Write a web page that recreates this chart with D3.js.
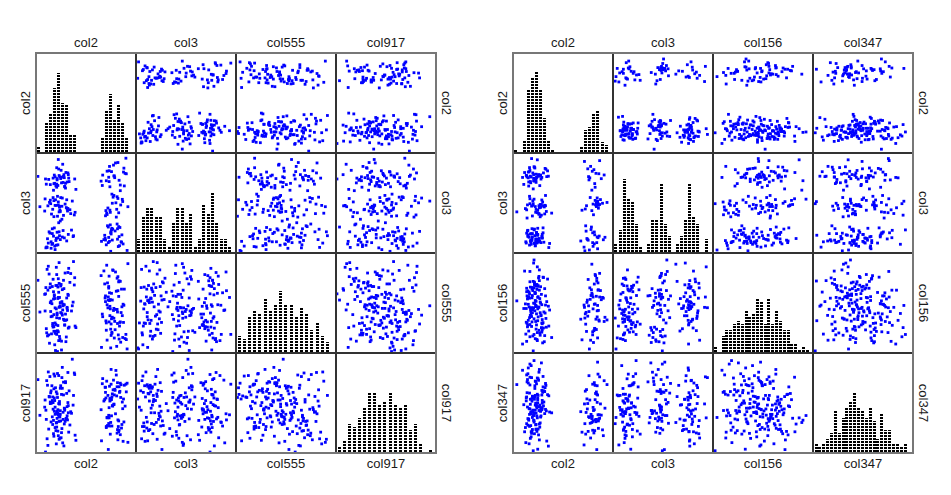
<!DOCTYPE html>
<html>
<head>
<meta charset="utf-8">
<script src="https://cdn.jsdelivr.net/npm/d3@7"></script>
<style>
  body { margin: 0; background: #fff; }
  text { font-family: "Liberation Sans", Arial, Helvetica, sans-serif; font-size: 13px; fill: #1a1a1a; }
</style>
</head>
<body>
<div id="chart"></div>
<script>
// Values are in histogram-bin units: the integer part is the bin of the diagonal histogram

// Left matrix
const leftNames = ["col2", "col3", "col555", "col917"];

const lCol2 = [
  18.4, 5.1, 2.7, 20.3, 4.6, 6.2, 17.9, 0.8, 5.5, 21.2, 3.4, 19.6, 7.1, 16.5, 4.2, 18.8, 5.9, 8.3, 20.7, 6.6,
  4.8, 17.2, 5.4, 22.1, 3.3, 7.7, 18.5, 2.2, 6.9, 19.1, 5.0, 9.4, 21.6, 4.1, 17.8, 3.9, 7.2, 20.5, 5.7, 18.1,
  6.4, 19.3, 4.9, 2.5, 17.6, 5.2, 20.9, 8.7, 4.3, 18.2, 7.5, 16.1, 5.8, 3.6, 21.4, 6.0, 18.6, 4.5, 20.2, 5.6,
  17.4, 3.1, 5.9, 22.6, 6.8, 18.9, 2.9, 7.3, 20.1, 4.4, 9.8, 17.0, 6.3, 21.8, 3.7, 5.3, 19.5, 7.9, 18.3, 4.0,
  5.7, 20.4, 0.3, 18.7, 4.7, 6.5, 16.8, 2.4, 19.9, 5.1, 8.0, 21.5, 3.8, 6.1, 17.3, 4.2, 20.8, 7.6, 18.0, 5.4,
  21.1, 5.6, 3.2, 18.4, 7.0, 17.5, 4.9, 22.4, 2.8, 9.1, 19.7, 5.2, 3.9, 20.6, 6.7, 17.9, 4.3, 7.8, 18.8, 5.8,
  4.1, 18.6, 6.9, 20.0, 2.6, 16.4, 5.5, 7.4, 19.2, 4.8, 21.7, 8.5, 17.1, 6.2, 3.5, 20.5, 7.9, 18.2, 5.0, 4.6,
  19.4, 5.3, 22.8, 7.2, 17.7, 2.1, 4.5, 18.1, 9.6, 5.9, 20.3, 6.4, 19.0, 3.0, 17.2, 7.6, 21.9, 4.0, 18.5, 5.1,
  6.6, 20.9, 3.4, 16.2, 7.8, 18.3, 5.4, 9.2, 4.6, 19.8, 2.3, 8.1, 20.1, 6.0, 17.6, 4.4, 21.3, 7.0, 18.9, 5.7,
  18.7, 4.3, 20.6, 5.0, 8.9, 17.4, 6.7, 2.0, 22.3, 5.6, 19.3, 3.6, 9.5, 21.0, 6.3, 18.0, 4.9, 7.5, 20.2, 5.3
];

const lCol3 = [
  9.2, 16.7, 3.1, 12.4, 0.6, 17.3, 5.8, 10.5, 19.2, 2.3, 15.6, 4.9, 11.1, 17.8, 3.7, 13.4, 7.2, 9.8, 1.5, 16.1,
  15.3, 2.8, 11.6, 18.2, 4.4, 9.5, 0.2, 16.9, 3.3, 12.7, 19.5, 8.6, 1.9, 17.1, 10.2, 5.4, 14.8, 9.1, 3.8, 16.3,
  3.5, 17.6, 10.8, 1.2, 18.7, 8.3, 14.2, 5.1, 11.9, 19.8, 2.6, 16.4, 9.7, 0.9, 12.2, 17.0, 4.2, 15.9, 3.0, 9.3,
  16.5, 4.7, 9.4, 0.4, 17.9, 11.3, 2.1, 18.4, 12.8, 5.6, 14.5, 3.9, 10.6, 19.4, 8.8, 1.7, 17.2, 4.1, 15.1, 9.9,
  10.4, 1.3, 17.5, 5.2, 12.1, 20.3, 2.9, 15.7, 8.1, 4.6, 17.1, 11.7, 1.8, 18.9, 9.6, 14.3, 5.7, 16.2, 3.4, 10.9,
  2.4, 17.7, 11.5, 6.3, 15.2, 9.0, 1.6, 18.1, 10.7, 3.6, 20.6, 12.9, 4.3, 16.6, 8.5, 2.2, 15.8, 10.1, 5.5, 17.4,
  12.6, 4.8, 17.2, 9.9, 1.1, 15.4, 6.8, 10.3, 20.1, 2.7, 18.5, 8.9, 3.2, 16.0, 11.2, 5.9, 17.9, 2.5, 15.0, 10.8,
  17.6, 3.3, 10.5, 15.9, 6.1, 12.3, 1.4, 18.8, 9.2, 2.9, 20.7, 12.5, 5.3, 16.8, 8.4, 10.0, 15.3, 2.0, 4.5, 17.0,
  5.0, 15.5, 12.0, 2.5, 18.3, 9.7, 21.4, 3.8, 17.4, 11.4, 1.0, 16.3, 6.5, 12.6, 8.7, 17.8, 4.0, 15.1, 2.8, 10.6,
  18.6, 8.2, 3.6, 15.7, 11.8, 1.7, 17.5, 9.5, 21.7, 4.7, 13.1, 2.4, 16.9, 10.9, 7.6, 17.3, 3.2, 12.1, 5.4, 15.4
];

const lCol555 = [
  8.4, 12.9, 3.2, 14.6, 5.7, 0.5, 10.1, 7.8, 2.3, 12.2, 9.6, 4.4, 15.3, 6.9, 11.7, 3.9, 8.8, 13.5, 5.1, 9.0,
  5.4, 9.8, 14.2, 2.7, 12.5, 8.1, 0.9, 11.3, 6.2, 15.8, 3.5, 13.0, 9.3, 4.9, 8.6, 12.7, 7.4, 10.8, 3.1, 5.9,
  12.1, 6.6, 16.4, 3.8, 9.2, 0.2, 13.7, 8.0, 4.1, 11.5, 6.3, 14.8, 2.6, 9.9, 7.1, 12.8, 3.3, 10.4, 5.6, 8.7,
  4.3, 15.1, 9.5, 0.7, 12.3, 6.8, 16.6, 2.1, 8.3, 10.9, 4.8, 13.2, 7.5, 9.1, 3.6, 12.6, 6.0, 11.0, 8.9, 5.2,
  10.6, 3.4, 13.9, 6.5, 0.4, 8.2, 15.7, 4.6, 11.8, 7.3, 16.2, 2.9, 9.4, 13.1, 6.1, 10.3, 5.8, 8.5, 12.4, 4.0,
  7.7, 13.3, 1.8, 10.2, 5.3, 16.8, 8.4, 2.5, 12.0, 9.7, 15.5, 4.2, 7.0, 13.8, 6.4, 10.7, 5.0, 11.2, 3.7, 8.9,
  14.1, 5.5, 9.2, 1.2, 16.0, 7.4, 11.6, 3.0, 8.1, 12.9, 5.8, 15.2, 10.5, 2.2, 7.9, 13.6, 4.7, 10.0, 6.7, 8.6,
  2.8, 10.4, 17.1, 6.2, 13.4, 8.0, 1.5, 14.7, 5.1, 9.6, 11.9, 7.2, 15.9, 3.4, 10.9, 8.7, 12.2, 5.6, 4.5, 7.6,
  9.3, 5.9, 13.2, 1.0, 15.4, 7.1, 10.6, 17.5, 3.7, 8.3, 12.5, 4.9, 14.3, 7.7, 2.4, 11.1, 8.8, 5.3, 10.1, 6.6,
  11.4, 7.3, 2.6, 15.0, 9.0, 5.7, 13.9, 11.2, 3.5, 17.3, 8.5, 6.9, 14.4, 2.0, 9.8, 12.7, 4.1, 10.5, 7.8, 5.2
];

const lCol917 = [
  10.3, 6.7, 13.2, 2.5, 8.9, 11.4, 0.6, 7.3, 15.1, 4.8, 9.6, 12.2, 6.1, 14.5, 3.7, 10.9, 8.2, 5.4, 11.8, 7.9,
  7.6, 12.8, 3.3, 9.1, 14.9, 6.4, 10.5, 0.1, 8.7, 12.3, 5.9, 15.6, 2.2, 9.8, 11.2, 7.0, 13.7, 4.1, 10.0, 6.8,
  12.6, 9.4, 1.7, 14.1, 6.9, 10.8, 3.5, 7.7, 15.4, 5.2, 11.6, 8.4, 2.8, 12.1, 9.9, 6.2, 13.4, 10.2, 4.5, 7.1,
  4.9, 11.0, 7.5, 13.6, 1.3, 9.2, 15.8, 6.6, 12.9, 8.1, 2.4, 10.4, 14.7, 6.0, 9.7, 4.2, 12.4, 7.8, 10.6, 5.5,
  9.5, 5.1, 14.3, 7.2, 12.7, 1.9, 10.1, 6.5, 15.2, 11.5, 4.0, 8.6, 13.1, 2.9, 10.7, 6.3, 12.0, 9.0, 5.7, 7.4,
  13.3, 6.1, 10.9, 3.6, 8.3, 14.0, 5.8, 11.9, 1.4, 9.3, 7.6, 15.5, 10.2, 4.4, 13.8, 6.9, 12.5, 9.8, 5.2, 7.0,
  8.5, 16.3, 5.6, 11.1, 2.7, 13.5, 9.6, 6.7, 14.2, 4.3, 10.5, 8.0, 12.8, 3.9, 11.7, 6.2, 9.2, 13.0, 5.0, 7.5,
  11.3, 7.8, 2.0, 13.9, 5.3, 10.3, 15.0, 8.8, 3.4, 12.6, 6.4, 16.7, 9.1, 4.6, 11.8, 7.2, 13.2, 10.9, 5.9, 8.1,
  6.5, 13.6, 9.9, 2.3, 15.7, 10.1, 7.4, 11.2, 4.9, 16.1, 8.3, 12.1, 3.8, 13.1, 6.8, 10.7, 5.5, 8.6, 11.5, 7.0,
  10.4, 3.2, 12.9, 7.9, 18.3, 5.1, 11.3, 8.9, 13.4, 2.6, 9.5, 6.0, 15.3, 10.8, 4.7, 7.3, 11.9, 6.6, 13.7, 8.4
];

// Right matrix
const rightNames = ["col2", "col3", "col156", "col347"];

const rCol2 = [
  4.6, 19.2, 3.1, 5.8, 0.7, 18.4, 6.3, 4.0, 20.5, 7.2, 3.7, 16.6, 5.2, 4.9, 19.8, 6.8, 3.4, 20.1, 7.6, 5.5,
  5.3, 3.6, 17.7, 4.2, 6.5, 20.4, 2.8, 5.9, 19.1, 4.7, 7.3, 18.6, 3.2, 5.0, 6.1, 19.7, 4.4, 20.9, 7.8, 5.6,
  18.2, 6.9, 4.3, 5.1, 19.4, 3.8, 7.1, 2.4, 20.2, 5.7, 4.8, 17.3, 6.2, 3.3, 5.4, 19.9, 4.1, 7.7, 20.7, 5.8,
  4.5, 19.3, 5.2, 8.4, 3.9, 21.1, 6.6, 2.6, 5.7, 17.9, 4.1, 7.4, 18.8, 3.5, 6.0, 20.3, 5.4, 19.6, 4.9, 5.0,
  6.4, 3.0, 20.6, 5.5, 4.6, 17.1, 8.2, 6.9, 19.0, 2.1, 5.8, 21.6, 4.3, 18.3, 6.2, 3.8, 7.5, 19.5, 5.1, 4.0,
  19.7, 4.8, 6.7, 2.9, 5.3, 18.0, 3.4, 7.0, 21.3, 4.2, 6.1, 17.5, 5.9, 8.7, 3.9, 20.0, 4.4, 6.5, 19.2, 5.6,
  5.2, 20.8, 3.5, 6.3, 4.7, 17.6, 8.0, 3.1, 19.3, 5.7, 6.8, 21.8, 4.0, 18.9, 3.9, 5.4, 20.2, 7.9, 6.0, 4.5,
  4.1, 18.5, 6.4, 3.3, 22.2, 5.0, 8.5, 20.4, 4.8, 6.9, 3.7, 17.4, 5.6, 19.8, 7.2, 4.4, 20.9, 6.1, 3.0, 5.3,
  6.6, 3.4, 20.1, 5.9, 4.3, 9.2, 17.8, 6.2, 22.7, 3.8, 5.1, 19.0, 4.9, 7.7, 18.1, 5.5, 3.2, 20.6, 6.8, 4.6,
  5.8, 16.3, 4.2, 7.1, 3.6, 20.5, 6.4, 18.7, 5.2, 4.9, 22.0, 3.1, 17.2, 6.7, 19.6, 5.4, 7.5, 4.5, 20.3, 3.9
];

const rCol3 = [
  11.4, 2.3, 18.6, 4.1, 9.8, 0.5, 16.2, 2.7, 11.9, 19.3, 3.6, 10.2, 17.5, 2.1, 12.6, 18.2, 5.3, 11.1, 20.4, 4.8,
  2.6, 17.1, 11.3, 4.5, 18.8, 0.8, 10.6, 3.2, 19.7, 11.8, 2.4, 13.3, 18.3, 5.6, 9.4, 16.7, 2.9, 11.6, 20.2, 4.2,
  18.4, 3.4, 11.2, 2.2, 9.1, 20.6, 4.7, 16.5, 12.3, 2.8, 18.9, 0.3, 10.8, 5.2, 17.7, 11.5, 2.5, 13.8, 19.1, 4.3,
  3.7, 11.7, 1.6, 18.5, 4.4, 12.8, 2.3, 19.4, 9.6, 3.1, 16.9, 11.0, 5.5, 18.1, 2.7, 13.2, 10.4, 4.9, 20.8, 17.3,
  18.7, 2.2, 11.4, 4.6, 12.5, 1.2, 19.8, 3.5, 10.1, 18.2, 5.8, 11.9, 2.9, 17.6, 3.3, 13.6, 9.3, 20.1, 4.0, 18.5,
  4.2, 18.0, 11.6, 2.5, 9.7, 20.3, 3.8, 12.2, 17.9, 1.9, 11.3, 6.4, 18.6, 2.1, 13.0, 19.2, 3.4, 10.9, 4.7, 18.3,
  11.1, 3.9, 19.5, 2.6, 15.4, 5.1, 18.4, 10.3, 1.4, 22.5, 12.7, 3.0, 17.2, 6.1, 11.8, 19.0, 2.3, 9.9, 18.9, 4.5,
  2.8, 18.1, 8.6, 11.5, 3.6, 20.7, 1.1, 12.4, 17.4, 4.3, 19.6, 10.5, 2.2, 15.8, 11.2, 5.7, 22.3, 9.2, 18.7, 3.2,
  17.8, 4.1, 11.9, 2.4, 22.8, 9.5, 3.3, 18.5, 12.1, 1.7, 20.5, 15.1, 5.4, 11.3, 2.9, 18.2, 8.3, 10.7, 3.8, 19.3,
  10.2, 2.7, 18.3, 5.9, 16.1, 3.5, 11.6, 20.9, 1.5, 12.9, 18.8, 4.6, 22.1, 9.0, 2.0, 17.0, 11.4, 8.8, 3.7, 19.9
];

const rCol156 = [
  11.2, 4.6, 16.8, 8.3, 13.5, 0.9, 14.1, 9.7, 18.2, 6.4, 11.9, 3.3, 15.6, 8.8, 20.4, 12.5, 7.1, 14.7, 10.3, 17.6,
  8.1, 14.6, 5.5, 11.3, 17.2, 3.8, 12.7, 9.3, 15.1, 0.4, 10.6, 13.9, 7.6, 18.4, 11.8, 6.2, 14.3, 20.7, 8.9, 16.5,
  12.2, 5.9, 9.4, 15.7, 2.6, 14.2, 7.8, 11.5, 18.7, 3.1, 12.9, 9.0, 16.3, 6.7, 13.4, 20.1, 10.8, 14.8, 8.5, 17.3,
  10.4, 14.5, 3.6, 12.1, 7.3, 16.2, 9.8, 21.3, 5.2, 13.7, 11.6, 2.8, 14.9, 8.4, 19.5, 10.9, 6.1, 12.6, 16.9, 17.7,
  13.2, 7.9, 16.4, 10.1, 4.3, 12.4, 19.2, 8.6, 15.5, 2.2, 11.4, 14.4, 6.8, 10.7, 21.6, 9.1, 16.7, 5.7, 12.8, 17.1,
  6.3, 11.7, 15.2, 4.8, 12.3, 9.5, 16.1, 2.5, 13.8, 10.2, 19.9, 7.4, 14.6, 11.1, 21.2, 8.7, 16.6, 12.9, 5.4, 17.8,
  15.4, 8.2, 12.6, 5.1, 18.6, 10.5, 13.3, 2.9, 11.4, 22.4, 7.7, 14.2, 9.6, 16.4, 4.1, 12.0, 19.4, 6.6, 11.9, 17.0,
  11.3, 16.9, 4.5, 14.0, 9.2, 18.1, 6.9, 12.3, 23.4, 7.5, 15.8, 10.1, 3.4, 12.7, 19.6, 8.0, 14.5, 5.8, 11.5, 17.4,
  9.6, 14.3, 6.0, 17.5, 11.7, 3.9, 13.1, 18.8, 8.5, 15.3, 10.9, 23.1, 4.7, 12.4, 19.1, 7.2, 14.8, 11.0, 5.3, 16.2,
  14.4, 8.7, 11.2, 19.7, 5.6, 16.3, 10.4, 3.2, 13.6, 24.2, 8.1, 15.9, 11.8, 6.5, 17.9, 12.2, 4.4, 14.9, 9.3, 18.5
];

const rCol347 = [
  10.3, 5.6, 14.2, 0.7, 17.4, 8.9, 12.1, 3.5, 9.6, 15.8, 11.2, 5.1, 18.3, 7.7, 13.5, 10.9, 20.2, 8.4, 16.6, 11.8,
  12.6, 8.2, 16.1, 3.9, 10.5, 14.7, 6.3, 18.9, 9.2, 0.3, 12.9, 7.4, 15.3, 10.1, 20.6, 5.5, 13.8, 8.7, 17.2, 11.4,
  9.1, 13.3, 4.8, 16.4, 10.7, 6.6, 19.5, 12.2, 0.6, 14.9, 9.8, 7.3, 21.3, 11.6, 5.9, 15.1, 10.2, 17.7, 8.5, 12.7,
  14.4, 7.9, 10.8, 1.5, 17.3, 12.4, 9.3, 5.2, 19.1, 11.1, 6.8, 15.6, 9.7, 21.7, 4.4, 12.8, 10.0, 17.9, 8.1, 13.6,
  10.6, 13.2, 6.1, 17.6, 9.4, 1.8, 14.8, 11.3, 8.6, 21.1, 13.9, 5.7, 10.4, 19.7, 7.2, 15.2, 9.9, 4.9, 17.1, 12.3,
  8.3, 14.1, 10.9, 2.4, 18.2, 12.5, 6.9, 15.4, 9.5, 22.3, 11.7, 4.6, 14.6, 10.3, 19.3, 7.8, 13.1, 9.0, 17.5, 5.3,
  12.1, 9.6, 17.8, 6.4, 14.3, 10.2, 2.8, 19.9, 11.5, 8.8, 15.9, 4.2, 13.6, 9.2, 22.7, 7.1, 14.9, 10.6, 18.5, 5.8,
  9.9, 13.4, 7.5, 18.7, 11.3, 4.7, 14.5, 23.2, 8.2, 12.6, 2.1, 15.7, 9.3, 17.2, 11.9, 5.4, 19.4, 10.7, 14.0, 7.0,
  11.4, 8.6, 15.5, 5.9, 19.2, 10.1, 13.7, 3.1, 17.4, 9.7, 14.3, 7.6, 23.6, 11.0, 5.3, 12.2, 18.1, 8.0, 14.7, 10.8,
  13.5, 10.4, 5.2, 16.8, 8.5, 20.1, 11.6, 3.6, 14.6, 9.4, 18.4, 7.3, 12.4, 23.0, 10.9, 5.8, 15.6, 8.9, 17.1, 11.1
];

// axis range of each variable (bin units) and the count that reaches the top of its histogram panel
const leftLimits = [[-0.175, 24.825], [-0.19, 22.9], [-0.08, 19.15], [-0.09, 19.52]];
const rightLimits = [[-0.23, 24.16], [-0.23, 24.16], [-0.15, 26.03], [-0.28, 25.56]];
const leftHistTop = [34, 31.1, 31, 31.7];
const rightHistTop = [40.2, 31.4, 31.5, 31.6];

const width = 951,
  height = 495,
  cell = 100,
  pointSize = 2.8,
  barWidth = 3;

var svg = d3.select("#chart").append("svg")
  .attr("width", width)
  .attr("height", height);

var defs = svg.append("defs");

function drawMatrix(id, x0, y0, names, cols, limits, histTop) {
  var n = names.length;
  var g = svg.append("g").attr("id", id);

  var xs = limits.map((l, j) => d3.scaleLinear().domain(l).range([x0 + j * cell, x0 + (j + 1) * cell]));
  var ys = limits.map((l, i) => d3.scaleLinear().domain(l).range([y0 + (i + 1) * cell, y0 + i * cell]));

  for (var i = 0; i < n; i++) {
    for (var j = 0; j < n; j++) {
      var panel = g.append("g").attr("class", "panel-" + i + "-" + j);

      if (i === j) {
        // diagonal: histogram drawn as columns of stacked dots
        var bottom = y0 + (i + 1) * cell - 1;
        var nb = Math.ceil(limits[i][1]);
        var bins = d3.bin().domain([0, nb]).thresholds(d3.range(1, nb))(cols[i]);
        var hy = d3.scaleLinear().domain([0, histTop[i]]).range([bottom, y0 + i * cell]);

        var pid = id + "-dots-" + i;
        var pat = defs.append("pattern")
          .attr("id", pid)
          .attr("patternUnits", "userSpaceOnUse")
          .attr("x", 0)
          .attr("y", bottom)
          .attr("width", 10)
          .attr("height", 3);
        pat.append("rect").attr("x", 0).attr("y", 1).attr("width", 10).attr("height", 2).attr("fill", "#000");

        panel.selectAll("rect.bar")
          .data(bins.filter(b => b.length > 0))
          .enter()
          .append("rect")
            .attr("class", "bar")
            .attr("x", b => Math.round(xs[i]((b.x0 + b.x1) / 2) - barWidth / 2))
            .attr("y", b => Math.round(hy(b.length)))
            .attr("width", barWidth)
            .attr("height", b => bottom - Math.round(hy(b.length)))
            .attr("shape-rendering", "crispEdges")
            .attr("fill", "url(#" + pid + ")");
      } else {
        var xv = cols[j], yv = cols[i];
        var xsc = xs[j], ysc = ys[i];
        panel.selectAll("rect.pt")
          .data(d3.range(xv.length))
          .enter()
          .append("rect")
            .attr("class", "pt")
            .attr("x", k => xsc(xv[k]) - pointSize / 2)
            .attr("y", k => ysc(yv[k]) - pointSize / 2)
            .attr("width", pointSize)
            .attr("height", pointSize)
            .attr("fill", "#0000ff");
      }

      panel.append("rect")
        .attr("x", x0 + j * cell)
        .attr("y", y0 + i * cell)
        .attr("width", cell)
        .attr("height", cell)
        .attr("fill", "none")
        .attr("stroke", "#333")
        .attr("stroke-width", 2);
    }
  }

  // outer frame
  g.append("rect")
    .attr("x", x0)
    .attr("y", y0)
    .attr("width", n * cell)
    .attr("height", n * cell)
    .attr("fill", "none")
    .attr("stroke", "#777")
    .attr("stroke-width", 2);

  // variable names round the matrix
  g.selectAll("text.top").data(names).enter().append("text")
    .attr("class", "top")
    .attr("x", (d, j) => x0 + j * cell + cell / 2)
    .attr("y", y0 - 6)
    .attr("text-anchor", "middle")
    .text(d => d);

  g.selectAll("text.bottom").data(names).enter().append("text")
    .attr("class", "bottom")
    .attr("x", (d, j) => x0 + j * cell + cell / 2)
    .attr("y", y0 + n * cell + 15)
    .attr("text-anchor", "middle")
    .text(d => d);

  g.selectAll("text.left").data(names).enter().append("text")
    .attr("class", "left")
    .attr("transform", (d, i) => "translate(" + (x0 - 6) + "," + (y0 + i * cell + cell / 2) + ") rotate(-90)")
    .attr("text-anchor", "middle")
    .text(d => d);

  g.selectAll("text.right").data(names).enter().append("text")
    .attr("class", "right")
    .attr("transform", (d, i) => "translate(" + (x0 + n * cell + 6) + "," + (y0 + i * cell + cell / 2) + ") rotate(90)")
    .attr("text-anchor", "middle")
    .text(d => d);
}

drawMatrix("left", 36, 53, leftNames, [lCol2, lCol3, lCol555, lCol917], leftLimits, leftHistTop);
drawMatrix("right", 513, 53, rightNames, [rCol2, rCol3, rCol156, rCol347], rightLimits, rightHistTop);
</script>
</body>
</html>
